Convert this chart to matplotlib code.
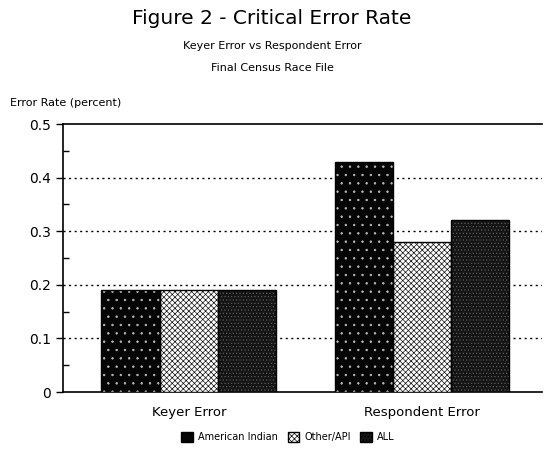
import matplotlib.pyplot as plt
import numpy as np
from matplotlib.patches import Patch
from matplotlib.ticker import MultipleLocator

plt.rcParams["hatch.linewidth"] = 0.5

CATEGORIES = ["Keyer Error", "Respondent Error"]
SERIES = ["American Indian", "Other/API", "ALL"]
VALUES = {
    "American Indian": [0.19, 0.43],
    "Other/API": [0.19, 0.28],
    "ALL": [0.19, 0.32],
}
Y_TICKS = [0, 0.1, 0.2, 0.3, 0.4, 0.5]
Y_TICK_LABELS = ["0", "0.1", "0.2", "0.3", "0.4", "0.5"]

STYLES = {
    "American Indian": {"facecolor": "#050505", "hatch": "..", "hatchcolor": "#bdbdbd"},
    "Other/API": {"facecolor": "#ffffff", "hatch": "xxxxxx", "hatchcolor": "#111111"},
    "ALL": {"facecolor": "#141414", "hatch": ".....", "hatchcolor": "#5a5a5a"},
}


def main():
    fig = plt.figure(figsize=(5.44, 4.51), dpi=100)
    ax = fig.add_axes([63 / 544, 59 / 451, 479 / 544, 268 / 451])

    x = np.arange(len(CATEGORIES))
    width = 0.25
    for i, name in enumerate(SERIES):
        st = STYLES[name]
        ax.bar(
            x + (i - 1) * width, VALUES[name], width,
            color=st["facecolor"], hatch=st["hatch"], edgecolor=st["hatchcolor"],
            linewidth=0, zorder=3,
        )
        ax.bar(
            x + (i - 1) * width, VALUES[name], width,
            fill=False, edgecolor="black", linewidth=1.0, zorder=4,
        )

    ax.set_xlim(-0.54, 1.515)
    ax.set_ylim(0, 0.5)
    ax.set_yticks(Y_TICKS)
    ax.set_yticklabels(Y_TICK_LABELS, fontsize=10)
    ax.yaxis.set_minor_locator(MultipleLocator(0.05))
    ax.tick_params(axis="y", which="major", direction="out", length=5, width=1)
    ax.tick_params(axis="y", which="minor", direction="in", length=4, width=1)
    ax.set_xticks(x)
    ax.set_xticklabels(CATEGORIES, fontsize=9.5)
    ax.tick_params(axis="x", length=0, pad=10)

    for y in Y_TICKS[1:-1]:
        ax.axhline(y, color="black", linestyle=(0, (1.5, 2.5)), linewidth=1, zorder=1)

    ax.spines["right"].set_visible(False)
    for s in ["top", "left", "bottom"]:
        ax.spines[s].set_linewidth(1.2)

    fig.text(0.5, 1 - 18 / 451, "Figure 2 - Critical Error Rate", ha="center", va="center",
             fontsize=14.5)
    fig.text(0.5, 1 - 46 / 451, "Keyer Error vs Respondent Error", ha="center", va="center", fontsize=8)
    fig.text(0.5, 1 - 68 / 451, "Final Census Race File", ha="center", va="center", fontsize=8)
    fig.text(10 / 544, 1 - 103 / 451, "Error Rate (percent)", ha="left", va="center", fontsize=8)

    handles = [
        Patch(facecolor=STYLES[n]["facecolor"], hatch=STYLES[n]["hatch"], edgecolor="black", label=n)
        for n in SERIES
    ]
    fig.legend(
        handles=handles, loc="center", bbox_to_anchor=(288 / 544, 1 - 437 / 451), ncol=3,
        frameon=False, fontsize=7, handlelength=1.2, handleheight=1.2, columnspacing=1.0,
        handletextpad=0.5,
    )

    fig.savefig("out.png", dpi=100)
    plt.close(fig)


if __name__ == "__main__":
    main()
